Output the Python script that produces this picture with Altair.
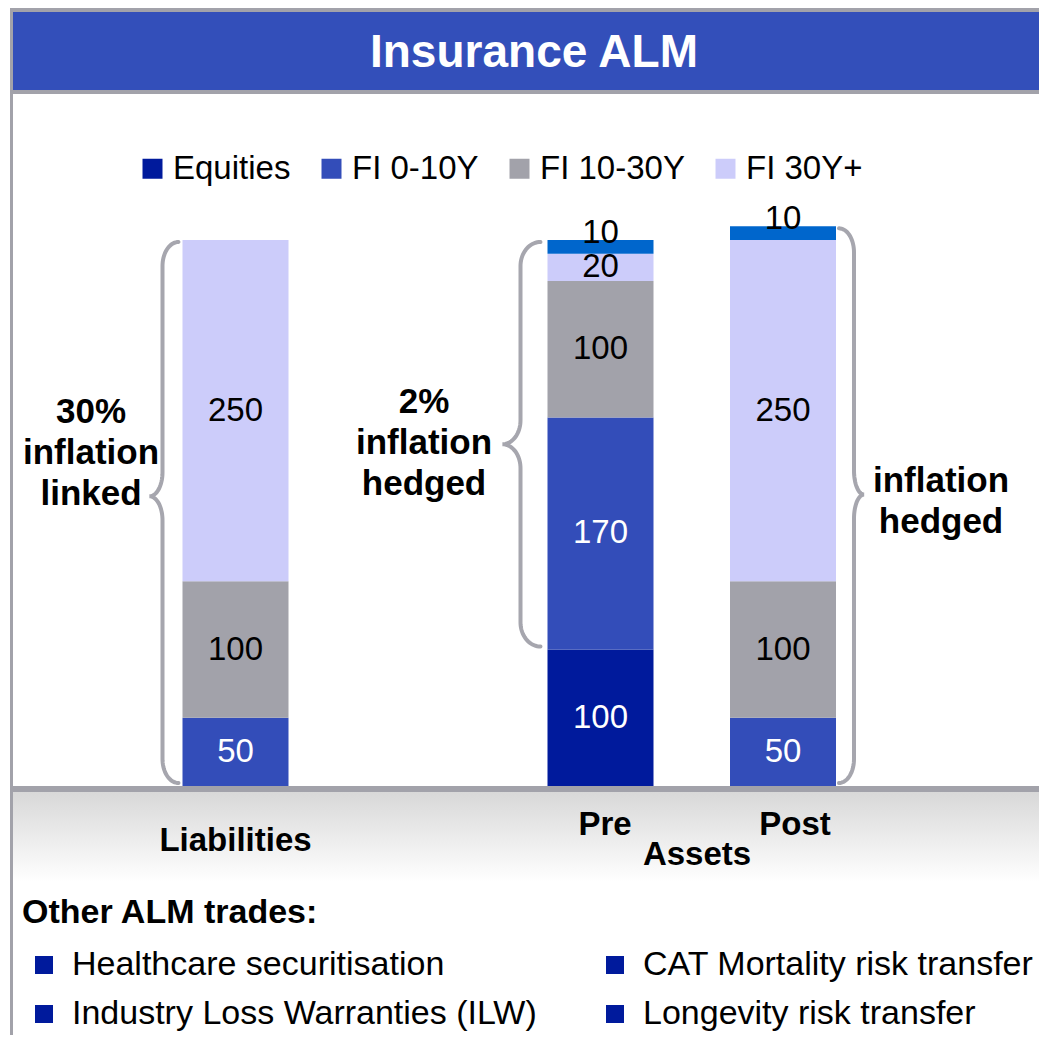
import altair as alt
import pandas as pd
import numpy as np

# ---------------- data ----------------
columns = ["Liabilities", "Pre", "Post"]
column_pos = [0, 2, 3]
series = ["Equities", "FI 0-10Y", "FI 10-30Y", "FI 30Y+", "Inflation hedge"]
legend_series = ["Equities", "FI 0-10Y", "FI 10-30Y", "FI 30Y+"]
liabilities_vals = [0, 50, 100, 250, 0]
pre_vals = [100, 170, 100, 20, 10]
post_vals = [0, 50, 100, 250, 10]
series_colors = ["#001a9c", "#334db9", "#a2a2aa", "#ccccfa", "#0066cc"]
white_label_series = ["Equities", "FI 0-10Y"]
black_label_series = ["FI 10-30Y", "FI 30Y+"]

title_text = "Insurance ALM"
category_labels = ["Liabilities", "Pre", "Post", "Assets"]
brace_texts = ["30%\ninflation\nlinked", "2%\ninflation\nhedged", "inflation\nhedged"]
# brace spans in value units: (column position, low, high, direction)
brace_spans = [(0, 0, 400, -1), (2, 100, 400, -1), (3, 0, 410, 1)]
other_title = "Other ALM trades:"
trades_left = ["Healthcare securitisation", "Industry Loss Warranties (ILW)"]
trades_right = ["CAT Mortality risk transfer", "Longevity risk transfer"]

FONT = "Liberation Sans, Arial, Helvetica, sans-serif"
W, H = 1031, 1027
BAR_W = 106

# ---------------- scales ----------------
Y0_PX, PPU = 778.0, 1.365      # pixel row of value 0, pixels per unit
X0_PX, PPX = 227.5, 182.5      # pixel column of position 0, pixels per position
y_domain = [-(H - Y0_PX) / PPU, Y0_PX / PPU]
x_domain = [-X0_PX / PPX, (W - X0_PX) / PPX]
xs = alt.Scale(domain=x_domain, nice=False, zero=False, padding=0)
ys = alt.Scale(domain=y_domain, nice=False, zero=False, padding=0)


def ux(px):
    return x_domain[0] + px / PPX


def uy(py):
    return y_domain[1] - py / PPU


def px_x(u):
    return (u - x_domain[0]) * PPX


def px_y(v):
    return (y_domain[1] - v) * PPU


# ---------------- bars ----------------
rows = []
for col, pos, vals in zip(columns, column_pos, [liabilities_vals, pre_vals, post_vals]):
    for i, (s, v) in enumerate(zip(series, vals)):
        rows.append({"column": col, "pos": pos, "series": s, "order": i, "value": v})
bars_df = pd.DataFrame(rows)

base = (
    alt.Chart(bars_df)
    .transform_filter("datum.value > 0")
    .transform_stack(stack="value", groupby=["column"], as_=["y0", "y1"],
                     sort=[alt.SortField("order", order="ascending")])
    .transform_calculate(mid="(datum.y0 + datum.y1) / 2")
)

X = alt.X("pos:Q", scale=xs, axis=None)

bars = base.mark_bar(size=BAR_W).encode(
    x=X,
    y=alt.Y("y0:Q", scale=ys, axis=None),
    y2="y1:Q",
    color=alt.Color(
        "series:N",
        scale=alt.Scale(domain=series, range=series_colors),
        legend=alt.Legend(
            title=None, orient="none", legendX=128, legendY=144, padding=0,
            direction="horizontal", symbolType="square", symbolSize=400,
            symbolStrokeWidth=0, labelFontSize=33, labelFont=FONT,
            labelColor="black", columnPadding=24, labelOffset=4,
            values=legend_series, labelLimit=400,
        ),
    ),
)

lab_white = base.transform_filter(
    alt.FieldOneOfPredicate(field="series", oneOf=white_label_series)
).mark_text(color="white", fontSize=33, font=FONT, baseline="middle").encode(
    x=X, y=alt.Y("mid:Q", scale=ys, axis=None), text="value:Q")

lab_black = base.transform_filter(
    alt.FieldOneOfPredicate(field="series", oneOf=black_label_series)
).mark_text(color="black", fontSize=33, font=FONT, baseline="middle").encode(
    x=X, y=alt.Y("mid:Q", scale=ys, axis=None), text="value:Q")

lab_hedge = base.transform_filter(
    alt.FieldEqualPredicate(field="series", equal="Inflation hedge")
).mark_text(color="black", fontSize=33, font=FONT, baseline="middle", dy=-14).encode(
    x=X, y=alt.Y("mid:Q", scale=ys, axis=None), text="value:Q")

# ---------------- braces ----------------
def brace(x_end, y_top, y_bot, y_tip, d, a, b, r1, r2, n=20):
    pts = []
    t = np.linspace(0, np.pi / 2, n)
    xv = x_end + d * a
    pts += list(zip(x_end + d * a * np.sin(t), y_top + r1 - r1 * np.cos(t)))
    pts += list(zip(xv + d * b - d * b * np.cos(t), (y_tip - r2) + r2 * np.sin(t)))
    pts += list(zip(xv + d * b - d * b * np.sin(t), (y_tip + r2) - r2 * np.cos(t)))
    pts += list(zip(xv - d * a * (1 - np.cos(t)), (y_bot - r1) + r1 * np.sin(t)))
    return pts

brace_rows = []
brace_geom = [
    # gap from bar edge, a, b, tip fraction
    (4, 16, 13, 0.47),
    (7, 20, 18, 0.50),
    (3, 15, 10, 0.48),
]
for k, ((pos, lo, hi, d), (gap, a, b, frac)) in enumerate(zip(brace_spans, brace_geom)):
    xe = px_x(pos) + d * (BAR_W / 2 + gap)
    yt = px_y(hi) + 2
    yb = px_y(lo) - 3
    ytip = yt + frac * (yb - yt)
    pts = brace(xe, yt, yb, ytip, d, a, b, 24, 24)
    for i, (px, py) in enumerate(pts):
        brace_rows.append({"b": k, "i": i, "x": ux(px), "y": uy(py)})
brace_df = pd.DataFrame(brace_rows)

braces = alt.Chart(brace_df).mark_line(color="#a6a6ae", strokeWidth=4, strokeCap="round").encode(
    x=alt.X("x:Q", scale=xs, axis=None),
    y=alt.Y("y:Q", scale=ys, axis=None),
    detail="b:N",
    order="i:Q",
)

# ---------------- frame / decorations ----------------
def rect(x1, x2, y1, y2, **kw):
    return alt.Chart(pd.DataFrame({"a": [0]})).mark_rect(**kw).encode(
        x=alt.value(x1), x2=alt.value(x2), y=alt.value(y1), y2=alt.value(y2))

frame_top = rect(2, W, 0, 86, color="#a2a2aa")
banner = rect(5, W, 4, 82, color="#334fba")
left_border = rect(2, 5, 0, H, color="#a2a2aa")
baseline = rect(5, W, 778, 784, color="#a2a2aa")
gradient = rect(5, W, 784, 874, color=alt.Gradient(
    gradient="linear", x1=0, x2=0, y1=0, y2=1,
    stops=[alt.GradientStop(color="#d8d8d8", offset=0),
           alt.GradientStop(color="#ffffff", offset=1)]))


def text_at(txt, x, y, size, bold=False, color="black", align="center", lh=41):
    return alt.Chart(pd.DataFrame({"t": [txt]})).mark_text(
        fontSize=size, font=FONT, fontWeight="bold" if bold else "normal",
        color=color, align=align, baseline="middle", lineBreak="\n", lineHeight=lh,
    ).encode(x=alt.value(x), y=alt.value(y), text="t:N")

title = text_at(title_text, 526, 45, 46, bold=True, color="white")
t_liab = text_at(category_labels[0], px_x(0), 833, 33, bold=True)
t_pre = text_at(category_labels[1], 597, 817, 33, bold=True)
t_post = text_at(category_labels[2], 787, 817, 33, bold=True)
t_assets = text_at(category_labels[3], 689, 847, 33, bold=True)
t_b1 = text_at(brace_texts[0], 83, 404, 35, bold=True)
t_b2 = text_at(brace_texts[1], 416, 394, 35, bold=True)
t_b3 = text_at(brace_texts[2], 933, 473, 35, bold=True)
t_other = text_at(other_title, 14, 905, 34, bold=True, align="left")

# bullet list
bul_rows = []
for col_i, items in enumerate([trades_left, trades_right]):
    for row_i, txt in enumerate(items):
        bx = 36 + col_i * 571
        by = 957 + row_i * 49
        bul_rows.append({"t": txt, "sx": ux(bx), "tx": ux(bx + 28), "y": uy(by)})
bul_df = pd.DataFrame(bul_rows)
bullet_sq = alt.Chart(bul_df).mark_square(size=324, color="#001a9c", opacity=1).encode(
    x=alt.X("sx:Q", scale=xs, axis=None), y=alt.Y("y:Q", scale=ys, axis=None))
bullet_tx = alt.Chart(bul_df).mark_text(fontSize=34, font=FONT, align="left", baseline="middle",
                                        color="black").encode(
    x=alt.X("tx:Q", scale=xs, axis=None), y=alt.Y("y:Q", scale=ys, axis=None), text="t:N")

chart = alt.layer(
    frame_top, banner, left_border, gradient, baseline,
    bars, lab_white, lab_black, lab_hedge, braces,
    title, t_liab, t_pre, t_post, t_assets, t_b1, t_b2, t_b3, t_other,
    bullet_sq, bullet_tx,
).properties(width=W, height=H, padding=0, autosize="none", background="white"
).configure_view(stroke=None)

chart.save("out.html", embed_options={"renderer": "svg", "actions": False})
